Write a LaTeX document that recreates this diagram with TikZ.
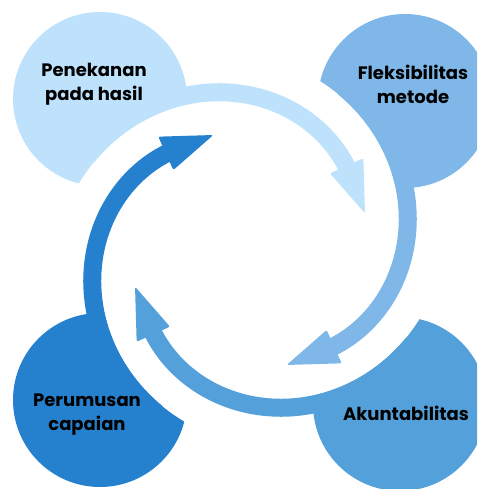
\documentclass[tikz,border=0pt]{standalone}
\usepackage{fontspec}
\newfontfamily\labelfont{Poppins}
\definecolor{cA}{HTML}{2581CD}
\definecolor{cB}{HTML}{BEE1FC}
\definecolor{cC}{HTML}{7EB7E8}
\definecolor{cD}{HTML}{54A0DA}
\begin{document}
\begin{tikzpicture}[x=1pt,y=1pt,
  lbl/.style={align=center, font=\labelfont\bfseries\fontsize{18}{24}\selectfont, text=black, inner sep=0pt},
  band/.style={line width=18pt}]
\useasboundingbox (-250,-239) rectangle (227,250);
\clip (-250,-239) rectangle (227,250);
% circles
\fill[cA] (-150,-150) circle (87);
\fill[cB] (-150,151) circle (87);
\fill[cC] (155,149) circle (87);
\fill[cD] (150,-154) circle (87);
% white cuts
\foreach \r in {0,-90,-180,-270} {
  \fill[white, rotate=\r] (0,0) -- plot[domain=185:265, samples=50] (\x:{119+0.55*(\x-131.5)}) -- cycle;
}
% spiral arrows
\foreach \r/\c in {0/cA,-90/cB,-180/cC,-270/cD} {
  \begin{scope}[rotate=\r]
    \draw[band, \c] plot[domain=240:129, samples=60] (\x:{128+0.55*(\x-131.5)});
    \fill[\c, rounded corners=2pt] (107.7:120.7) -- (128.98:145.8) -- (133.8:110.8) -- cycle;
  \end{scope}
}
% labels
\node[lbl] (t1) at (-156,166) {Penekanan\\pada hasil};
\node[lbl] (t2) at (163,166) {Fleksibilitas\\metode};
\node[lbl] (t3) at (-163,-165) {Perumusan\\capaian};
\node[lbl] (t4) at (156,-163) {Akuntabilitas};
\end{tikzpicture}
\end{document}
